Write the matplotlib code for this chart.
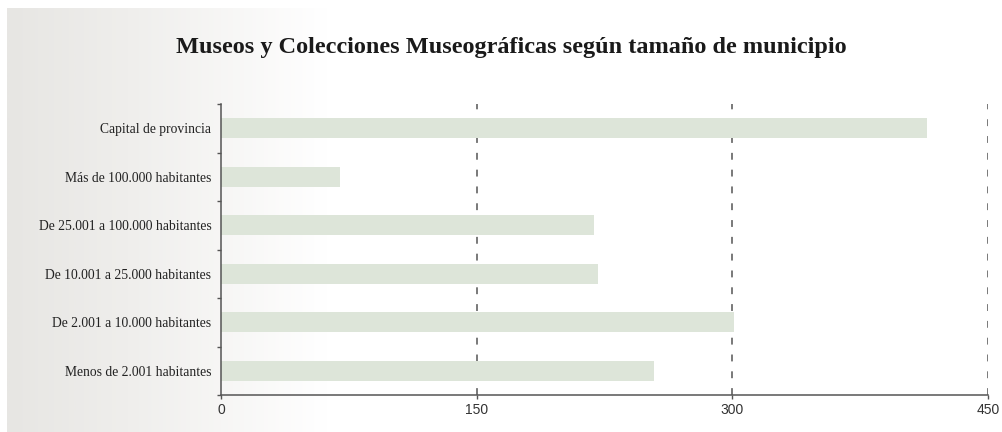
import numpy as np
import matplotlib
matplotlib.use("Agg")
import matplotlib.pyplot as plt
from matplotlib.colors import LinearSegmentedColormap

categories = [
    "Capital de provincia",
    "Más de 100.000 habitantes",
    "De 25.001 a 100.000 habitantes",
    "De 10.001 a 25.000 habitantes",
    "De 2.001 a 10.000 habitantes",
    "Menos de 2.001 habitantes",
]
museos = [414, 70, 219, 221, 301, 254]
x_ticks = [0, 150, 300, 450]
title = "Museos y Colecciones Museográficas según tamaño de municipio"

W, H = 1003, 432
fig = plt.figure(figsize=(W / 100, H / 100), dpi=100, facecolor="white")

# Soft grey-to-white horizontal backdrop
bg = fig.add_axes([7 / W, 0, 1 - 7 / W, 1 - 8 / H], zorder=-10)
grad = np.linspace(0, 1, 512).reshape(1, -1)
cmap = LinearSegmentedColormap.from_list(
    "bg", [(0.0, "#e7e6e3"), (0.12, "#efeeec"), (0.32, "#ffffff"), (1.0, "#ffffff")]
)
bg.imshow(grad, aspect="auto", cmap=cmap, extent=[0, 1, 0, 1])
bg.axis("off")

ax = fig.add_axes([221 / W, 1 - 395 / H, (988 - 221) / W, (395 - 104) / H])
ax.set_facecolor("none")

y = np.arange(len(categories))
ax.barh(y, museos, height=0.42, color="#dde5d9", zorder=2)

ax.set_xlim(0, 450)
ax.set_ylim(len(categories) - 0.5, -0.5)

for v in x_ticks[1:]:
    ax.axvline(v, color="#555555", lw=1.1, dashes=(4.5, 6.5), zorder=1)

ax.set_xticks(x_ticks)
ax.set_xticklabels([str(v) for v in x_ticks], fontfamily="Liberation Sans",
                   fontsize=10, color="#333333")
ax.tick_params(axis="x", direction="out", length=3, width=1, color="#555555", pad=3)

ax.set_yticks(y)
ax.set_yticklabels(categories, fontfamily="Liberation Serif", fontsize=9.8, color="#222222")
ax.tick_params(axis="y", which="major", length=0, pad=7)
ax.set_yticks(np.arange(-0.5, len(categories)), minor=True)
ax.tick_params(axis="y", which="minor", direction="out", length=3, width=1, color="#555555")

for side in ("top", "right"):
    ax.spines[side].set_visible(False)
for side in ("left", "bottom"):
    ax.spines[side].set_color("#555555")
    ax.spines[side].set_linewidth(1.1)

fig.text(511 / W, 1 - 47 / H, title, ha="center", va="center",
         fontfamily="Liberation Serif", fontweight="bold", fontsize=17.5, color="#1a1a1a")

fig.savefig("out.png", dpi=100, facecolor="white")
